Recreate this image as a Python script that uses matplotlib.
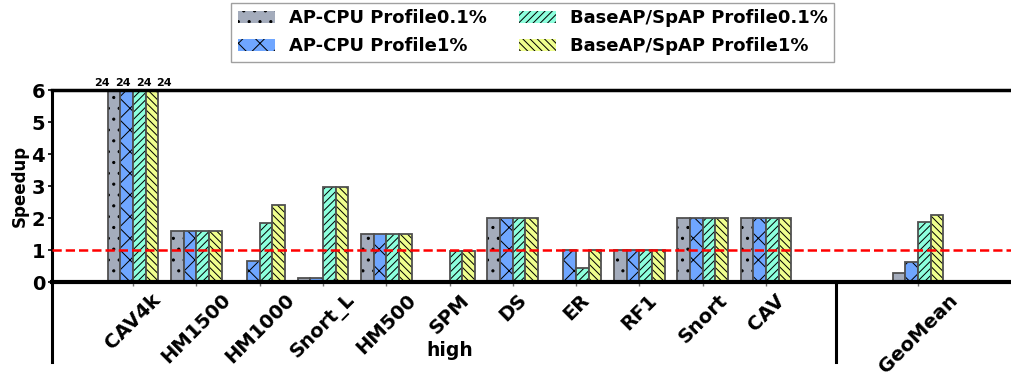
import numpy as np
import matplotlib
matplotlib.use("Agg")
import matplotlib.pyplot as plt

# Datos
benchmarks = ["CAV4k", "HM1500", "HM1000", "Snort_L", "HM500", "SPM",
              "DS", "ER", "RF1", "Snort", "CAV", "GeoMean"]
series = ["AP-CPU Profile0.1%", "AP-CPU Profile1%",
          "BaseAP/SpAP Profile0.1%", "BaseAP/SpAP Profile1%"]
ap_cpu_01 = [24, 1.6, 0.03, 0.12, 1.5, 0.0, 2.0, 0.0, 1.0, 2.0, 2.0, 0.29]
ap_cpu_1 = [24, 1.6, 0.65, 0.14, 1.5, 0.0, 2.0, 1.0, 1.0, 2.0, 2.0, 0.64]
base_01 = [24, 1.6, 1.83, 2.97, 1.5, 0.96, 2.0, 0.45, 1.0, 2.0, 2.0, 1.89]
base_1 = [24, 1.6, 2.42, 2.97, 1.5, 0.96, 2.0, 1.0, 1.0, 2.0, 2.0, 2.08]

colores = ["#a4acbc", "#6fa6ff", "#8dffdd", "#effe8e"]
hatches = [".", "x", "///", "\\\\\\"]

# dpi bajo para que el tamaño del rayado se parezca al original;
# S convierte tamaños pensados a 100 dpi
DPI = 65
S = 100 / DPI
plt.rcParams["hatch.linewidth"] = 1.1

x = np.arange(len(benchmarks), dtype=float)
x[-1] = 12.4  # GeoMean separado
ancho = 0.2
ymax = 6

fig = plt.figure(figsize=(1011 / DPI, 375 / DPI), dpi=DPI)
ax = fig.add_axes([0.0514, 0.248, 0.9486, 0.512])

valores = [ap_cpu_01, ap_cpu_1, base_01, base_1]
handles = []
for i, vals in enumerate(valores):
    pos = x + (i - 1.5) * ancho
    alto = np.minimum(vals, ymax)
    b = ax.bar(pos, alto, ancho, color=colores[i], hatch=hatches[i],
               edgecolor="black", linewidth=0, label=series[i])
    ax.bar(pos, alto, ancho, fill=False, edgecolor="#505050", linewidth=1.3 * S)
    handles.append(b)
    # valores recortados: etiqueta encima, repartidas
    for xc, v in zip(x, vals):
        if v > ymax:
            ax.text(xc + (i - 1.5) * 0.33, ymax + 0.05, f"{v:g}", ha="center",
                    va="bottom", fontsize=8 * S, fontweight="bold")

ax.axhline(1, color="red", linestyle=(0, (3.7, 1.6)), linewidth=1.8 * S, zorder=5)

ax.set_xlim(-1.28, 13.87)
ax.set_ylim(0, ymax)
ax.set_yticks(range(0, 7))
ax.tick_params(axis="y", labelsize=14 * S, length=3 * S, width=1.2 * S, pad=2 * S)
for t in ax.get_yticklabels():
    t.set_fontweight("bold")
ax.set_xticks(x)
ax.set_xticklabels(benchmarks, rotation=45, fontsize=14 * S, fontweight="bold")
ax.tick_params(axis="x", length=3 * S, width=1 * S, color="#777777", pad=3 * S)
ax.set_ylabel("Speedup", fontsize=12 * S, fontweight="bold", labelpad=2 * S)

ax.spines["right"].set_visible(False)
ax.spines["top"].set_linewidth(2.5 * S)
ax.spines["bottom"].set_linewidth(3 * S)
ax.spines["left"].set_linewidth(2.2 * S)

# Separadores bajo el eje
ax.plot([-1.28, -1.28], [0, -2.5], color="black", linewidth=2.2 * S, clip_on=False)
ax.plot([11.1, 11.1], [0, -2.5], color="black", linewidth=2.2 * S, clip_on=False)
ax.text(5, -2.15, "high", ha="center", va="center", fontsize=13.5 * S,
        fontweight="bold")

leg = fig.legend(handles=handles, loc="upper center", bbox_to_anchor=(0.527, 0.997),
                 ncol=2, prop={"weight": "bold", "size": 13 * S}, fancybox=False,
                 edgecolor="#888888", handlelength=2.05, handleheight=0.7,
                 columnspacing=1.8, borderpad=0.35, labelspacing=0.55,
                 handletextpad=0.78, borderaxespad=0.1)
leg.get_frame().set_linewidth(1.0 * S)

fig.savefig("out.png", dpi=DPI)
